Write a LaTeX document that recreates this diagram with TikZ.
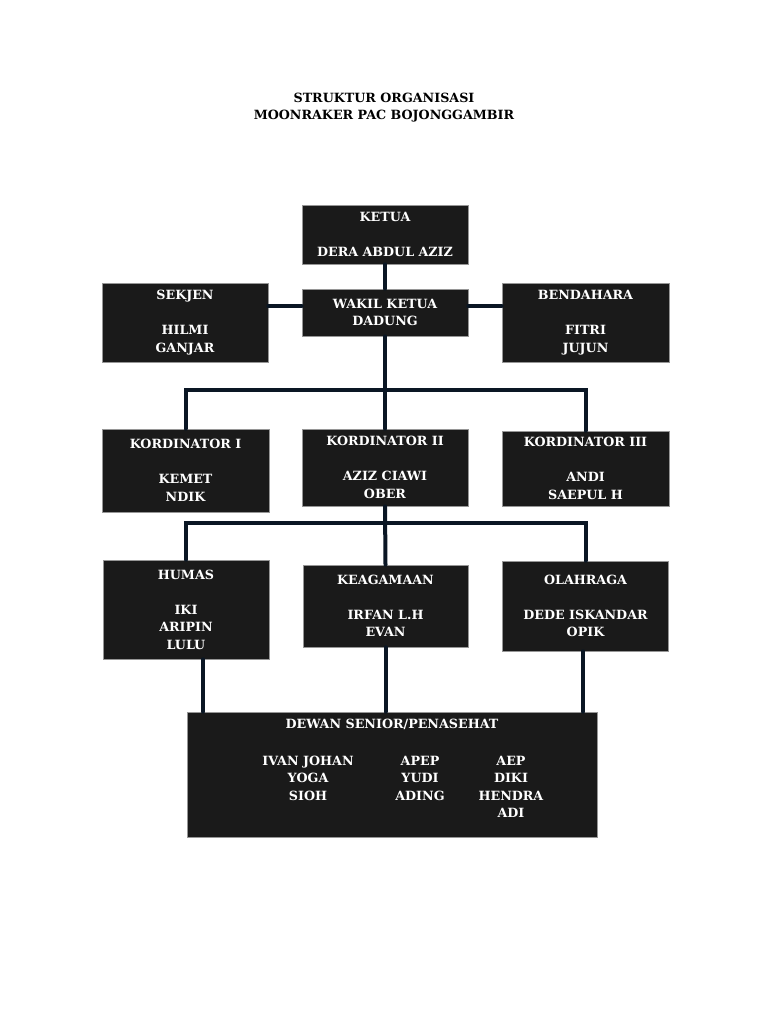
\documentclass[tikz,border=0pt]{standalone}
\usepackage{fontspec}
\setmainfont{DejaVu Serif}
\usepackage{array}
\definecolor{boxblack}{RGB}{26, 26, 26}
\definecolor{boxedge}{RGB}{150, 150, 150}
\definecolor{linknavy}{RGB}{10, 22, 36}
\usetikzlibrary{calc}

\begin{document}
\begin{tikzpicture}[x=1pt, y=-1pt,
  orgbox/.style={draw=boxedge, fill=boxblack, text=white, line width=0.6pt,
              minimum width=166pt, inner sep=0pt, align=center,
              font=\fontsize{12.7}{17.5}\selectfont\bfseries},
  link/.style={draw=linknavy, line width=4pt, line cap=round}
]
  \useasboundingbox[fill=white] (0,0) rectangle (768,1024);

  \node[align=center, font=\fontsize{12.7}{17}\selectfont\bfseries] (title) at (384,108)
    {STRUKTUR ORGANISASI\\MOONRAKER PAC BOJONGGAMBIR};

  \node[orgbox, minimum height=59pt] (ketua) at (385,234.5) {KETUA\\[17.5pt]DERA ABDUL AZIZ};
  \node[orgbox, minimum height=47pt] (wakil) at (385,312.5) {WAKIL KETUA\\DADUNG};
  \node[orgbox, minimum height=79pt] (sekjen) at (185,322.5) {SEKJEN\\[17.5pt]HILMI\\GANJAR};
  \node[orgbox, minimum height=79pt, minimum width=167pt] (bendahara) at (585.5,322.5) {BENDAHARA\\[17.5pt]FITRI\\JUJUN};

  \node[orgbox, minimum height=83pt, minimum width=167pt] (kord1) at (185.5,470.5) {KORDINATOR I\\[17.5pt]KEMET\\NDIK};
  \node[orgbox, minimum height=77pt] (kord2) at (385,467.5) {KORDINATOR II\\[17.5pt]AZIZ CIAWI\\OBER};
  \node[orgbox, minimum height=75pt, minimum width=167pt] (kord3) at (585.5,468.5) {KORDINATOR III\\[17.5pt]ANDI\\SAEPUL H};

  \node[orgbox, minimum height=99pt] (humas) at (186,609.5) {HUMAS\\[17.5pt]IKI\\ARIPIN\\LULU};
  \node[orgbox, minimum height=82pt, minimum width=165pt] (agama) at (385.5,606) {KEAGAMAAN\\[17.5pt]IRFAN L.H\\EVAN};
  \node[orgbox, minimum height=90pt] (olahraga) at (585.5,606) {OLAHRAGA\\[17.5pt]DEDE ISKANDAR\\OPIK};

  \node[orgbox, minimum height=125pt, minimum width=410pt] (dewan) at (392,774.5)
    {DEWAN SENIOR/PENASEHAT\\[22pt]
     \hspace*{14pt}\begin{tabular}{@{}>{\centering\arraybackslash}p{144pt}@{}>{\centering\arraybackslash}p{80pt}@{}>{\centering\arraybackslash}p{102pt}@{}}
       IVAN JOHAN & APEP & AEP\\
       YOGA & YUDI & DIKI\\
       SIOH & ADING & HENDRA\\
        & & ADI
     \end{tabular}\\[6pt]};

  \coordinate (bus1) at (385,390);
  \coordinate (bus2) at (385,523);

  \draw[link] (ketua.south) -- (wakil.north);
  \draw[link] ([yshift=6.5pt]wakil.west) -- ([yshift=6.5pt]wakil.west -| sekjen.east);
  \draw[link] ([yshift=6.5pt]wakil.east) -- ([yshift=6.5pt]wakil.east -| bendahara.west);
  \draw[link] (wakil.south) -- (kord2.north);
  \draw[link] (kord1.north) -- (kord1.north |- bus1) -- (kord3.north |- bus1) -- (kord3.north);
  \draw[link] (kord2.south) -- (agama.north);
  \draw[link] (humas.north) -- (humas.north |- bus2) -- (olahraga.north |- bus2) -- (olahraga.north);
  \draw[link] ([xshift=17pt]humas.south) -- ([xshift=17pt]humas.south |- dewan.north);
  \draw[link] (agama.south) -- (agama.south |- dewan.north);
  \draw[link] ([xshift=-2.5pt]olahraga.south) -- ([xshift=-2.5pt]olahraga.south |- dewan.north);
\end{tikzpicture}
\end{document}
